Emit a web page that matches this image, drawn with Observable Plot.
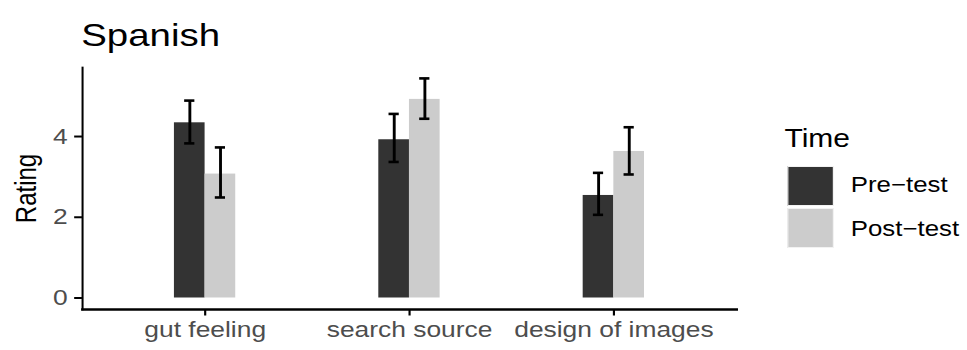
<!DOCTYPE html>
<html>
<head>
<meta charset="utf-8">
<script src="https://cdn.jsdelivr.net/npm/d3@7"></script>
<script src="https://cdn.jsdelivr.net/npm/@observablehq/plot@0.6"></script>
<style>
  html, body { margin: 0; padding: 0; background: white; overflow: hidden; }
  #wrap {
    position: relative; width: 806px; height: 350px;
    transform: scale(1.2, 1); transform-origin: 0 0;
    font-family: "Liberation Sans", Arial, sans-serif;
  }
  #chart { position: absolute; left: 0; top: 0; }
  .title { position: absolute; left: 67.7px; top: 18.9px; font-size: 32px; line-height: 32px; color: #000; white-space: nowrap; }
  .leg-title { position: absolute; left: 653.7px; top: 126.1px; font-size: 25px; line-height: 25px; color: #000; white-space: nowrap; }
  .swatch { position: absolute; left: 655.6px; width: 39px; height: 40px; box-sizing: border-box; border: 1px solid #f2f2f2; }
  .leg-label { position: absolute; left: 709px; font-size: 21.5px; line-height: 21.5px; color: #000; white-space: nowrap; }
  g[aria-label="y-axis tick label"], g[aria-label="x-axis tick label"] { fill: #4d4d4d; }
</style>
</head>
<body>
<div id="wrap">
  <div id="chart"></div>
  <div class="title">Spanish</div>
  <div id="legend"></div>
</div>
<script>
// ---- data ----
const categories = ["gut feeling", "search source", "design of images"];
const times = ["Pre-test", "Post-test"];
const timeLabels = ["Pre\u2212test", "Post\u2212test"];
const preMean = [4.34, 3.92, 2.54];
const preLow  = [3.83, 3.37, 2.06];
const preHigh = [4.89, 4.56, 3.10];
const postMean = [3.07, 4.92, 3.63];
const postLow  = [2.49, 4.44, 3.06];
const postHigh = [3.73, 5.44, 4.23];
const yTicks = [0, 2, 4];
const timeColors = ["#333333", "#cccccc"];

// ---- build table (ggplot-style dodge: bar width 0.3 per group) ----
const dodge = 0.3, capHalf = 0.025;
const rows = categories.flatMap((c, i) => [
  {cat: c, pos: i + 1, time: times[0], k: 0, mean: preMean[i], lo: preLow[i], hi: preHigh[i]},
  {cat: c, pos: i + 1, time: times[1], k: 1, mean: postMean[i], lo: postLow[i], hi: postHigh[i]}
]);
const half = dodge / 2;
const x1 = d => d.pos - half + d.k * half;
const x2 = d => x1(d) + half;
const xc = d => x1(d) + half / 2;

const chart = Plot.plot({
  width: 806,
  height: 350,
  marginLeft: 68.3,
  marginRight: 192.7,
  marginTop: 67,
  marginBottom: 41,
  style: {fontFamily: "Liberation Sans, Arial, sans-serif", background: "white", color: "black"},
  x: {domain: [0.4, 3.6]},
  y: {domain: [-0.285, 5.71]},
  color: {domain: times, range: timeColors},
  marks: [
    Plot.rectY(rows, {x1, x2, y1: 0, y2: "mean", fill: "time"}),
    Plot.ruleX(rows, {x: xc, y1: "lo", y2: "hi", stroke: "black", strokeWidth: 2.4}),
    Plot.ruleY(rows, {x1: d => xc(d) - capHalf, x2: d => xc(d) + capHalf, y: "lo", stroke: "black", strokeWidth: 2.6}),
    Plot.ruleY(rows, {x1: d => xc(d) - capHalf, x2: d => xc(d) + capHalf, y: "hi", stroke: "black", strokeWidth: 2.6}),
    Plot.frame({anchor: "left", stroke: "black", strokeWidth: 1.7}),
    Plot.frame({anchor: "bottom", stroke: "black", strokeWidth: 2.4}),
    Plot.axisY({ticks: yTicks, tickFormat: d => String(d), tickSize: 6.5, tickPadding: 6, fontSize: 22, label: null, stroke: "black", strokeWidth: 2, fill: "#4d4d4d"}),
    Plot.axisX({ticks: [1, 2, 3], tickFormat: d => categories[d - 1], tickSize: 6.5, tickPadding: 5.5, fontSize: 22, label: null, stroke: "black", strokeWidth: 1.8, fill: "#4d4d4d"}),
    Plot.text(["Rating"], {frameAnchor: "left", textAnchor: "middle", rotate: -90, lineAnchor: "top", dx: -55.8, fontSize: 24, fill: "black"})
  ]
});
document.getElementById("chart").appendChild(chart);

// ---- legend ----
const legend = document.getElementById("legend");
const lt = document.createElement("div");
lt.className = "leg-title"; lt.textContent = "Time";
legend.appendChild(lt);
const swTops = [166, 208.3];
const labTops = [175.1, 218.5];
times.forEach((t, i) => {
  const s = document.createElement("div");
  s.className = "swatch";
  s.style.top = swTops[i] + "px";
  s.style.background = timeColors[i];
  legend.appendChild(s);
  const l = document.createElement("div");
  l.className = "leg-label";
  l.style.top = labTops[i] + "px";
  l.textContent = timeLabels[i];
  legend.appendChild(l);
});
</script>
</body>
</html>
